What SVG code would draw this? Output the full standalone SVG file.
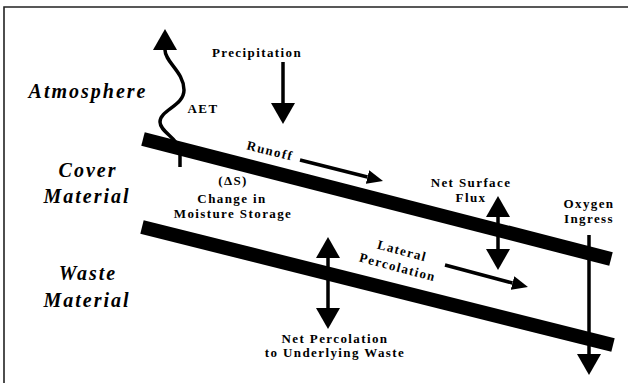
<svg xmlns="http://www.w3.org/2000/svg" width="628" height="383" viewBox="0 0 628 383">
<defs>
<style>
.lbl{font-family:"Liberation Serif","Times New Roman",serif;font-weight:bold;font-size:13px;letter-spacing:1.4px;fill:#000;text-anchor:middle}
.zone{font-family:"Liberation Serif","Times New Roman",serif;font-weight:bold;font-style:italic;font-size:20px;letter-spacing:2px;fill:#000;text-anchor:middle}
.band{stroke:#000;stroke-width:14;fill:none}
.arr{stroke:#000;stroke-width:3.5;fill:none}
</style>
<marker id="hb" markerUnits="userSpaceOnUse" viewBox="0 0 21 24" refX="0" refY="12" markerWidth="21" markerHeight="24" orient="auto-start-reverse">
<path d="M0,0 L21,12 L0,24 Z" fill="#000"/>
</marker>
<marker id="hs" markerUnits="userSpaceOnUse" viewBox="0 0 16 14" refX="0" refY="7" markerWidth="16" markerHeight="14" orient="auto">
<path d="M0,0 L16,7 L0,14 Z" fill="#000"/>
</marker>
</defs>
<rect width="628" height="383" fill="#fff"/>
<path d="M4,383 L4,7 L628,7" stroke="#222" stroke-width="1.6" fill="none"/>

<g id="connectors">
<path id="aet-arrow" class="arr" d="M165,50 C165,62 184,72 184,90 C184,106 160,110 160,122 C160,132 178,138 180,150 L180,167" marker-start="url(#hb)"/>
<path id="precip-arrow" class="arr" d="M283,62 L283,103" marker-end="url(#hb)"/>
<path id="runoff-arrow" class="arr" d="M300,160 L367.5,177" marker-end="url(#hs)"/>
<path id="nsf-arrow" class="arr" d="M498,217 L498,249" marker-start="url(#hb)" marker-end="url(#hb)"/>
<path id="lateral-arrow" class="arr" d="M445,265 L512.5,283" marker-end="url(#hs)"/>
<path id="netperc-arrow" class="arr" d="M328,258 L328,308" marker-start="url(#hb)" marker-end="url(#hb)"/>
<path id="oxygen-arrow" class="arr" stroke-width="3" d="M589,235 L589,354" marker-end="url(#hb)"/>
</g>

<g id="cover-top">
<line class="band" x1="143" y1="139" x2="611" y2="259"/>
</g>
<g id="cover-bottom">
<line class="band" x1="142" y1="227" x2="613" y2="345"/>
</g>

<g id="atmosphere"><text class="zone" x="88" y="98">Atmosphere</text></g>
<g id="cover-material"><text class="zone" x="88" y="177">Cover</text><text class="zone" x="87" y="203">Material</text></g>
<g id="waste-material"><text class="zone" x="88" y="280">Waste</text><text class="zone" x="87" y="307">Material</text></g>

<g id="aet"><text class="lbl" x="203" y="113">AET</text></g>
<g id="precipitation"><text class="lbl" x="257" y="57">Precipitation</text></g>
<g id="runoff"><text class="lbl" transform="translate(269,155) rotate(14)">Runoff</text></g>
<g id="moisture-storage"><text class="lbl" x="233" y="185">(ΔS)</text><text class="lbl" x="232" y="203">Change in</text><text class="lbl" x="233" y="218">Moisture Storage</text></g>
<g id="net-surface-flux"><text class="lbl" x="471" y="187">Net Surface</text><text class="lbl" x="471" y="202">Flux</text></g>
<g id="oxygen-ingress"><text class="lbl" x="589" y="208">Oxygen</text><text class="lbl" x="589" y="223">Ingress</text></g>
<g id="lateral-percolation"><g transform="translate(401,255) rotate(15)"><text class="lbl" x="0" y="0">Lateral</text><text class="lbl" x="0" y="17">Percolation</text></g></g>
<g id="net-percolation"><text class="lbl" x="335" y="343">Net Percolation</text><text class="lbl" x="335" y="357">to Underlying Waste</text></g>
</svg>
